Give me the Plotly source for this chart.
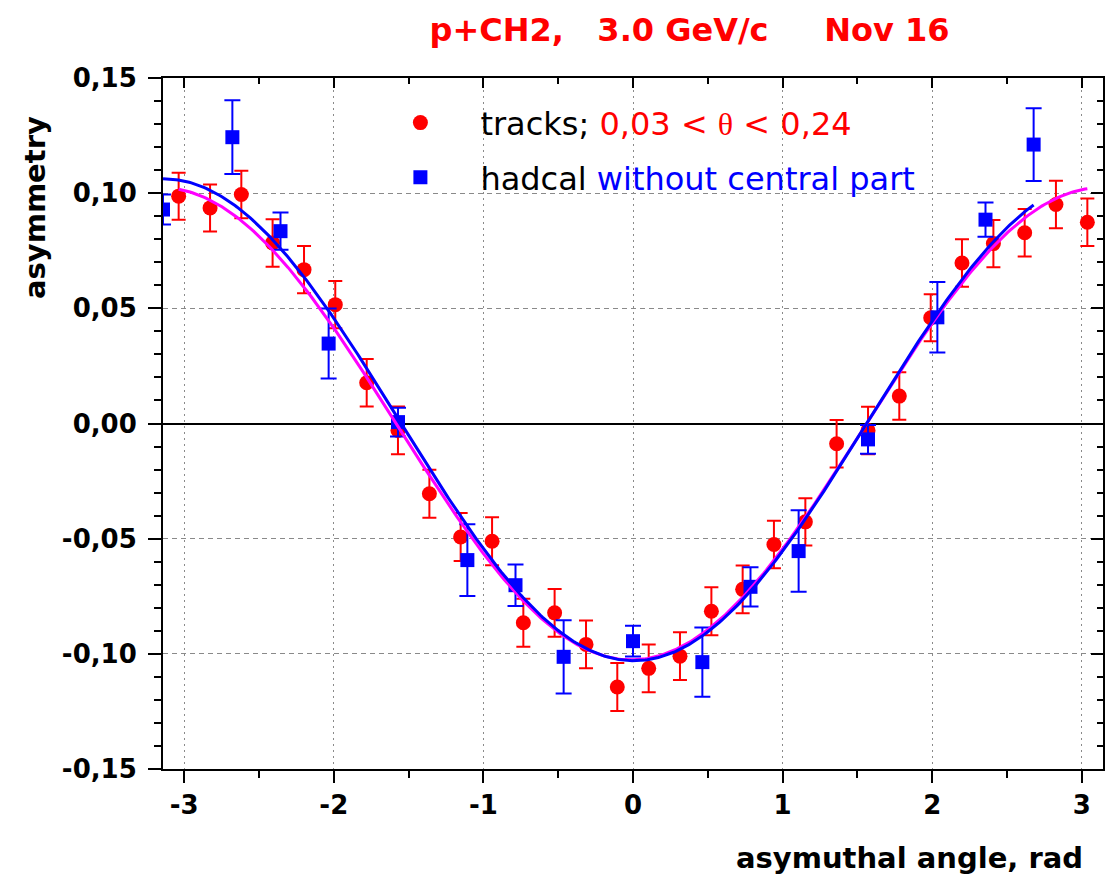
import numpy as np
import plotly.graph_objects as go

# tracks: 30 bins in azimuthal angle
track_phi = [-3.037, -2.827, -2.618, -2.409, -2.199, -1.990, -1.780, -1.571, -1.361, -1.152,
             -0.942, -0.733, -0.524, -0.314, -0.105, 0.105, 0.314, 0.524, 0.733, 0.942,
             1.152, 1.361, 1.571, 1.780, 1.990, 2.199, 2.409, 2.618, 2.827, 3.037]
track_asym = [0.0987, 0.0936, 0.0994, 0.0784, 0.0668, 0.0516, 0.0177, -0.0030, -0.0305, -0.0493,
              -0.0511, -0.0865, -0.0822, -0.0959, -0.1144, -0.1063, -0.1010, -0.0815, -0.0720, -0.0525,
              -0.0427, -0.0088, -0.0030, 0.0119, 0.0459, 0.0697, 0.0781, 0.0828, 0.0951, 0.0874]
track_err = [0.0102, 0.0102, 0.0103, 0.0103, 0.0103, 0.0103, 0.0103, 0.0104, 0.0104, 0.0104,
             0.0104, 0.0104, 0.0104, 0.0104, 0.0104, 0.0104, 0.0104, 0.0104, 0.0104, 0.0103,
             0.0103, 0.0103, 0.0103, 0.0103, 0.0102, 0.0103, 0.0103, 0.0103, 0.0103, 0.0103]

# hadron calorimeter cells (outer ring)
hadcal_phi = [-3.1416, -2.6779, -2.3562, -2.0344, -1.5708, -1.1071, -0.7854, -0.4636,
              0.0, 0.4636, 0.7854, 1.1071, 1.5708, 2.0344, 2.3562, 2.6779]
hadcal_asym = [0.0929, 0.1243, 0.0835, 0.0347, 0.0006, -0.0593, -0.0702, -0.1013,
               -0.0945, -0.1036, -0.0709, -0.0554, -0.0069, 0.0461, 0.0885, 0.1211]
hadcal_err = [0.0065, 0.0160, 0.0081, 0.0152, 0.0062, 0.0156, 0.0090, 0.0159,
              0.0067, 0.0150, 0.0085, 0.0177, 0.0062, 0.0153, 0.0074, 0.0158]

x_ticks = [-3, -2, -1, 0, 1, 2, 3]
x_ticktext = ["-3", "-2", "-1", "0", "1", "2", "3"]
y_ticks = [-0.15, -0.10, -0.05, 0.0, 0.05, 0.10, 0.15]
y_ticktext = ["-0,15", "-0,10", "-0,05", "0,00", "0,05", "0,10", "0,15"]

RED = "#ff0000"
BLUE = "#0000ff"
MAGENTA = "#ff00ff"
FONT = "DejaVu Sans"


def cosine_fit(phi, a, err):
    """Weighted least-squares fit of a0 + a1*cos(phi) + b1*sin(phi) over the data range."""
    phi = np.asarray(phi, float)
    w = 1.0 / np.asarray(err, float)

    def basis(p):
        return np.column_stack([np.ones_like(p), np.cos(p), np.sin(p)])

    coef, *_ = np.linalg.lstsq(basis(phi) * w[:, None], np.asarray(a) * w, rcond=None)
    grid = np.linspace(phi.min(), phi.max(), 400)
    return grid, basis(grid) @ coef


fit_t_x, fit_t_y = cosine_fit(track_phi, track_asym, track_err)
fit_h_x, fit_h_y = cosine_fit(hadcal_phi, hadcal_asym, hadcal_err)

fig = go.Figure()

fig.add_trace(go.Scatter(
    x=track_phi, y=track_asym, mode="markers",
    marker=dict(symbol="circle", size=15, color=RED),
    error_y=dict(type="data", array=track_err, color=RED, thickness=2, width=7),
    name="tracks; <span style='color:#ff0000'>0,03 &lt; "
         "<span style='font-family:Liberation Serif'>θ</span> &lt; 0,24</span>",
    legendgroup="a",
))
fig.add_trace(go.Scatter(
    x=hadcal_phi, y=hadcal_asym, mode="markers",
    marker=dict(symbol="square", size=14, color=BLUE),
    error_y=dict(type="data", array=hadcal_err, color=BLUE, thickness=2, width=8),
    name="hadcal <span style='color:#0000ff'>without central part</span>",
    legendgroup="b",
))
fig.add_trace(go.Scatter(
    x=fit_t_x, y=fit_t_y, mode="lines", line=dict(color=MAGENTA, width=3),
    showlegend=False, hoverinfo="skip",
))
fig.add_trace(go.Scatter(
    x=fit_h_x, y=fit_h_y, mode="lines", line=dict(color=BLUE, width=3),
    showlegend=False, hoverinfo="skip",
))
# carrier for the top/right frame axes
fig.add_trace(go.Scatter(x=[], y=[], xaxis="x2", yaxis="y2", showlegend=False,
                         hoverinfo="skip"))

xr = [-np.pi, np.pi]
yr = [-0.15, 0.15]
tickfont = dict(family=FONT, size=26, color="black", weight="bold")

fig.update_layout(
    width=1114, height=890,
    margin=dict(l=163, r=11, t=78, b=121),
    paper_bgcolor="white", plot_bgcolor="white",
    showlegend=True,
    legend=dict(x=0.21, y=0.975, xanchor="left", yanchor="top",
                font=dict(family=FONT, size=32, color="black"),
                bgcolor="rgba(0,0,0,0)", itemwidth=110,
                traceorder="grouped", tracegroupgap=10),
    xaxis=dict(
        range=xr, tickmode="array", tickvals=x_ticks, ticktext=x_ticktext,
        ticks="outside", ticklen=12, tickwidth=2, tickcolor="black",
        tickfont=tickfont, showline=True, linewidth=2, linecolor="black",
        showgrid=True, gridcolor="#8a8a8a", gridwidth=1, griddash="2px,4px",
        zeroline=False,
        minor=dict(tick0=0, dtick=0.5, ticks="outside", ticklen=7, tickwidth=2,
                   tickcolor="black", showgrid=False),
    ),
    yaxis=dict(
        range=yr, tickmode="array", tickvals=y_ticks, ticktext=y_ticktext,
        ticks="outside", ticklen=13, tickwidth=2, tickcolor="black",
        tickfont=tickfont, ticklabelstandoff=6,
        showline=True, linewidth=2, linecolor="black",
        showgrid=True, gridcolor="#8a8a8a", gridwidth=1, griddash="5px,4px",
        zeroline=True, zerolinecolor="black", zerolinewidth=2,
        minor=dict(tick0=0, dtick=0.01, ticks="outside", ticklen=7, tickwidth=2,
                   tickcolor="black", showgrid=False),
    ),
    xaxis2=dict(
        overlaying="x", side="top", anchor="y2", range=xr,
        tickmode="array", tickvals=x_ticks, showticklabels=False,
        ticks="inside", ticklen=10, tickwidth=2, tickcolor="black",
        showline=True, linewidth=2, linecolor="black", showgrid=False, zeroline=False,
        minor=dict(tick0=0, dtick=0.5, ticks="inside", ticklen=6, tickwidth=2,
                   tickcolor="black", showgrid=False),
    ),
    yaxis2=dict(
        overlaying="y", side="right", anchor="x2", range=yr,
        tickmode="array", tickvals=y_ticks, showticklabels=False,
        ticks="inside", ticklen=12, tickwidth=2, tickcolor="black",
        showline=True, linewidth=2, linecolor="black", showgrid=False, zeroline=False,
        minor=dict(tick0=0, dtick=0.01, ticks="inside", ticklen=6, tickwidth=2,
                   tickcolor="black", showgrid=False),
    ),
    title=dict(text="p+CH2,   3.0 GeV/c     Nov 16", x=0.619, xref="container",
               xanchor="center", y=0.966, yref="container", yanchor="middle",
               font=dict(family=FONT, size=32, color=RED, weight="bold")),
)

fig.add_annotation(text="asymmetry", textangle=-90, xref="paper", yref="paper",
                   x=-0.136, y=0.812, xanchor="center", yanchor="middle", showarrow=False,
                   font=dict(family=FONT, size=29, color="black", weight="bold"))
fig.add_annotation(text="asymuthal angle, rad", xref="paper", yref="paper",
                   x=0.981, y=-0.129, xanchor="right", yanchor="middle", showarrow=False,
                   font=dict(family=FONT, size=29, color="black", weight="bold"))

fig.write_html("out.html")
